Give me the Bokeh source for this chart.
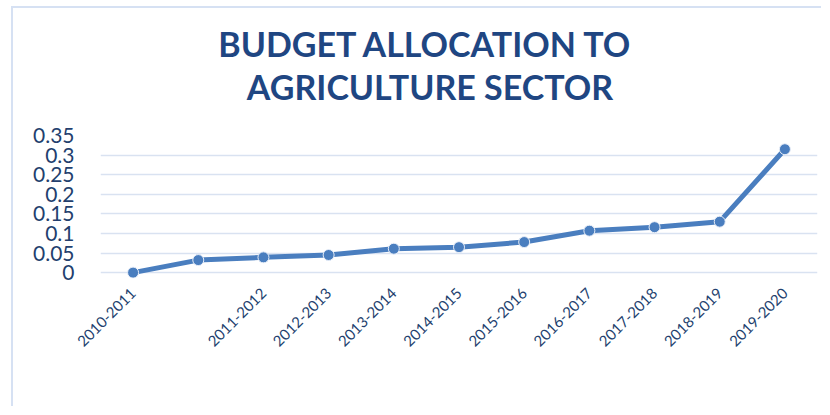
import math
from bokeh.plotting import figure
from bokeh.models import Range1d, FixedTicker, Title, ColumnDataSource
from bokeh.embed import file_html
from bokeh.resources import INLINE

# ---- data ----
years = ["2010-2011", "", "2011-2012", "2012-2013", "2013-2014", "2014-2015",
         "2015-2016", "2016-2017", "2017-2018", "2018-2019", "2019-2020"]
allocation = [0.0, 0.032, 0.039, 0.045, 0.061, 0.065, 0.078, 0.107, 0.116, 0.130, 0.315]
y_ticks = [0, 0.05, 0.1, 0.15, 0.2, 0.25, 0.3, 0.35]
y_tick_labels = ["0", "0.05", "0.1", "0.15", "0.2", "0.25", "0.3", "0.35"]
title_lines = ["BUDGET ALLOCATION  TO", "AGRICULTURE SECTOR"]

positions = list(range(len(years)))
source = ColumnDataSource(data=dict(x=positions, y=allocation))

TEXT = "#233f6e"
TITLE = "#1f4682"
LINE = "#4a7ebf"
GRID = "#d9e2f1"
BORDER = "#d6e1f3"

p = figure(width=810, height=400, output_backend="svg", toolbar_location=None,
           x_range=Range1d(-0.5, len(years) - 0.5), y_range=Range1d(-0.015, 0.35),
           min_border_left=87, min_border_right=6, min_border_top=127, min_border_bottom=130)
p.styles = {"margin-left": "11px", "margin-top": "6px",
            "border-left": "2px solid " + BORDER, "border-top": "2px solid " + BORDER}
p.outline_line_color = None
p.background_fill_color = "white"
p.border_fill_color = "white"

p.line("x", "y", source=source, line_color=LINE, line_width=5)
p.scatter("x", "y", source=source, size=11, fill_color=LINE, line_color="#e8eef8", line_width=1)

# axes
p.xaxis.ticker = FixedTicker(ticks=positions)
p.xaxis.major_label_overrides = {i: lab for i, lab in enumerate(years)}
p.xaxis.major_label_orientation = math.pi / 4
p.xaxis.major_label_text_font = "Lato"
p.xaxis.major_label_text_font_size = "15px"
p.xaxis.major_label_text_color = TEXT
p.xaxis.major_label_standoff = 6
p.xaxis.axis_line_color = None
p.xaxis.major_tick_line_color = None
p.xaxis.minor_tick_line_color = None

p.yaxis.ticker = FixedTicker(ticks=y_ticks)
p.yaxis.major_label_overrides = {t: s for t, s in zip(y_ticks, y_tick_labels)}
p.yaxis.major_label_text_font = "Lato"
p.yaxis.major_label_text_font_size = "21px"
p.yaxis.major_label_text_color = TEXT
p.yaxis.major_label_standoff = 20
p.yaxis.axis_line_color = None
p.yaxis.major_tick_line_color = None
p.yaxis.minor_tick_line_color = None

p.xgrid.grid_line_color = None
p.ygrid.ticker = FixedTicker(ticks=y_ticks)
p.ygrid.grid_line_color = GRID
p.ygrid.grid_line_width = 1.5

# spacing between the plot area and the title
p.add_layout(Title(text=" ", text_font_size="1px", standoff=26), "above")
# title: two centred lines (second line nearest the plot); right padding nudges left
for txt in [title_lines[1], title_lines[0]]:
    p.add_layout(Title(text=txt, align="center", standoff=0,
                       padding=dict(left=0, right=58, top=0, bottom=0),
                       text_font="Lato", text_font_style="bold", text_font_size="34px",
                       text_color=TITLE), "above")

open("out.html", "w").write(file_html(p, INLINE))
